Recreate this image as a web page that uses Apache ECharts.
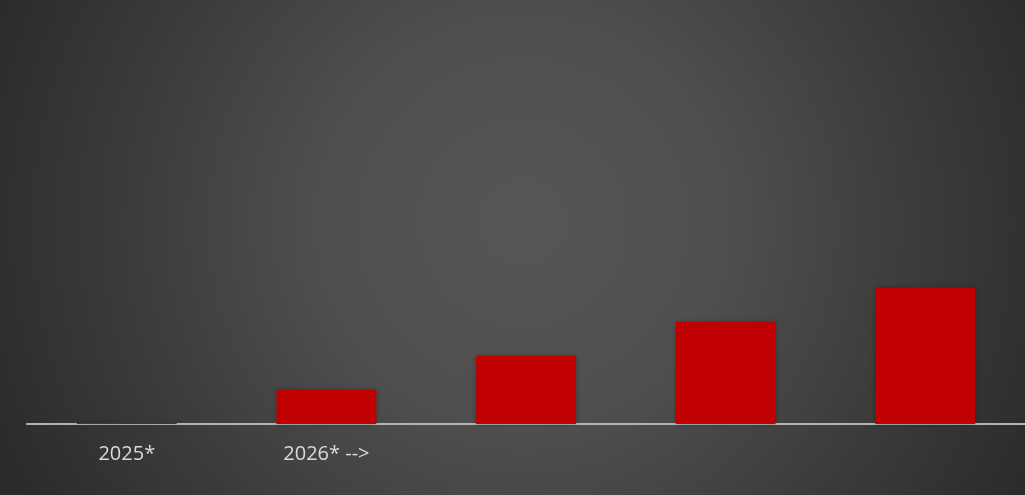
<!DOCTYPE html>
<html>
<head>
<meta charset="utf-8">
<script src="https://cdn.jsdelivr.net/npm/echarts@6/dist/echarts.min.js"></script>
<style>
html,body{margin:0;padding:0;background:#333;}
#c{width:1025px;height:495px;}
</style>
</head>
<body>
<div id="c"></div>
<script>
var categories = ['2025*', '2026* -->', '', '', ''];
var values = [0.03, 1, 2, 3, 4];

var chart = echarts.init(document.getElementById('c'), null, {renderer: 'canvas'});
chart.setOption({
  animation: false,
  backgroundColor: {
    type: 'radial', x: 0.51, y: 0.45, r: 1.15,
    colorStops: [
      {offset: 0, color: '#565656'},
      {offset: 0.35, color: '#4f4f4f'},
      {offset: 0.7, color: '#3b3b3b'},
      {offset: 1, color: '#2b2b2b'}
    ]
  },
  grid: {left: 27, right: 0, top: 15, bottom: 71, containLabel: false},
  xAxis: {
    type: 'category',
    data: categories,
    axisLine: {show: true, lineStyle: {color: '#b4b4b4', width: 2}},
    axisTick: {show: false},
    axisLabel: {
      color: '#d9d9d9', fontSize: 20, fontFamily: 'Open Sans, Noto Sans, sans-serif',
      margin: 20, interval: 0
    }
  },
  yAxis: {
    type: 'value', min: 0, max: 12,
    show: false,
    splitLine: {show: false}
  },
  series: [{
    type: 'bar',
    data: values,
    barWidth: '50%',
    itemStyle: {
      color: '#c00000',
      shadowBlur: 5,
      shadowColor: 'rgba(0,0,0,0.35)'
    }
  }]
});
</script>
</body>
</html>
